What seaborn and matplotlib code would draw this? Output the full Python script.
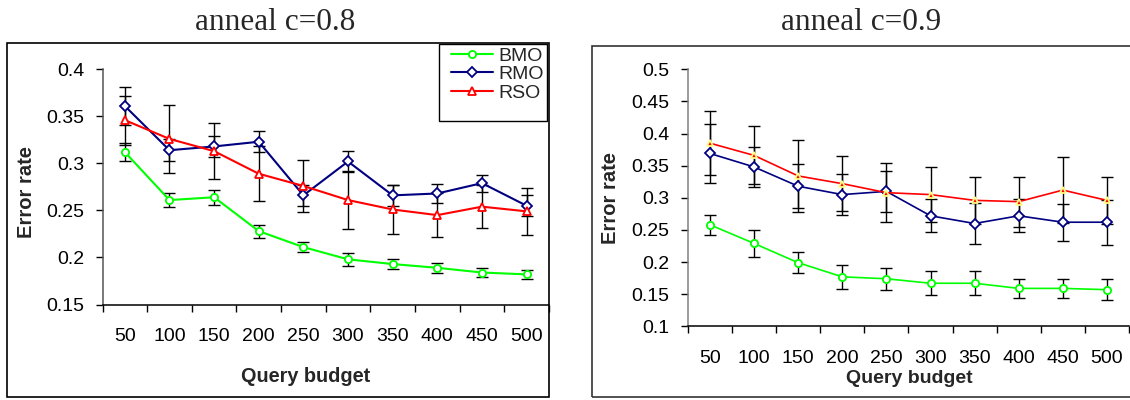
import matplotlib
matplotlib.use("Agg")
import matplotlib.pyplot as plt
from matplotlib.patches import Rectangle
from matplotlib.ticker import FixedLocator, NullLocator
import seaborn as sns
import pandas as pd

# ---------------- data ----------------
budgets = ["50", "100", "150", "200", "250", "300", "350", "400", "450", "500"]
series_names = ["BMO", "RMO", "RSO"]

# anneal c=0.8
bmo_08 = [0.312, 0.261, 0.264, 0.228, 0.211, 0.198, 0.193, 0.189, 0.184, 0.182]
bmo_08_err = [0.010, 0.007, 0.008, 0.007, 0.005, 0.007, 0.005, 0.005, 0.0045, 0.005]
rmo_08 = [0.361, 0.314, 0.318, 0.323, 0.266, 0.302, 0.266, 0.268, 0.279, 0.255]
rmo_08_err = [0.020, 0.012, 0.011, 0.011, 0.011, 0.011, 0.011, 0.010, 0.009, 0.011]
rso_08 = [0.346, 0.326, 0.313, 0.289, 0.276, 0.261, 0.251, 0.245, 0.254, 0.249]
rso_08_err = [0.026, 0.036, 0.030, 0.029, 0.028, 0.031, 0.026, 0.023, 0.023, 0.025]

# anneal c=0.9
bmo_09 = [0.258, 0.229, 0.199, 0.177, 0.174, 0.167, 0.167, 0.159, 0.159, 0.157]
bmo_09_err = [0.016, 0.021, 0.016, 0.019, 0.017, 0.019, 0.019, 0.015, 0.015, 0.016]
rmo_09 = [0.369, 0.348, 0.318, 0.305, 0.310, 0.272, 0.260, 0.272, 0.262, 0.262]
rmo_09_err = [0.046, 0.031, 0.034, 0.032, 0.032, 0.026, 0.032, 0.026, 0.029, 0.035]
rso_09 = [0.385, 0.366, 0.334, 0.322, 0.308, 0.305, 0.296, 0.294, 0.312, 0.296]
rso_09_err = [0.050, 0.045, 0.056, 0.043, 0.046, 0.043, 0.037, 0.039, 0.051, 0.037]

titles = ["anneal c=0.8", "anneal c=0.9"]
y_ticks_08 = [0.15, 0.2, 0.25, 0.3, 0.35, 0.4]
y_ticks_09 = [0.1, 0.15, 0.2, 0.25, 0.3, 0.35, 0.4, 0.45, 0.5]


def make_df(b, be, m, me, s, se):
    rows = []
    for name, vals, errs in zip(series_names, [b, m, s], [be, me, se]):
        for x, v, e in zip(budgets, vals, errs):
            rows.append({"budget": x, "series": name, "value": v, "err": e})
    return pd.DataFrame(rows)


df08 = make_df(bmo_08, bmo_08_err, rmo_08, rmo_08_err, rso_08, rso_08_err)
df09 = make_df(bmo_09, bmo_09_err, rmo_09, rmo_09_err, rso_09, rso_09_err)

# ---------------- style ----------------
sns.set_theme(style="white")
plt.rcParams["font.family"] = ["Liberation Sans", "DejaVu Sans"]

W, H = 1130, 400
fig = plt.figure(figsize=(W / 100, H / 100), dpi=100)


def fx(px):
    return px / W


def fy(py):
    return (H - py) / H


colors = {"BMO": "#00FF00", "RMO": "#000080", "RSO": "#FF0000"}
markers = {"BMO": "o", "RMO": "D", "RSO": "^"}

# chart-area borders
fig.add_artist(Rectangle((fx(6.7), fy(396.5)), fx(549 - 6.7), (396.5 - 43) / H,
                         transform=fig.transFigure, fill=False, lw=1.2, ec="black"))
fig.add_artist(Rectangle((fx(592), fy(397)), fx(1140 - 592), (397 - 46) / H,
                         transform=fig.transFigure, fill=False, lw=1.2, ec="#333333"))

axL = fig.add_axes([fx(102.5), fy(304.5), fx(548.9 - 102.5), (304.5 - 69.3) / H])
axR = fig.add_axes([fx(687.9), fy(326.3), fx(1129 - 687.9), (326.3 - 69.3) / H])


def draw(ax, df, ylim, yticks, lw, right=False):
    ax.set_facecolor("none")
    for name in series_names:
        sub = df[df["series"] == name]
        ax.errorbar(sub["budget"], sub["value"], yerr=sub["err"], fmt="none",
                    ecolor="black", elinewidth=1.0, capsize=4.6, capthick=1.0,
                    zorder=1.5)
    for name in series_names:
        sub = df[df["series"] == name]
        c = colors[name]
        mfc, mec = "white", c
        ms = 5.2 if name != "RMO" else 4.6
        if right and name == "RSO":
            mfc, mec, ms = "#FF0000", "#FFFF88", 5.0
        sns.lineplot(data=sub, x="budget", y="value", ax=ax, color=c,
                     marker=markers[name], markersize=ms, markerfacecolor=mfc,
                     markeredgecolor=mec, markeredgewidth=1.3, linewidth=lw,
                     errorbar=None, sort=False, label=name, legend=False,
                     zorder=3)
    ax.set_xlim(-0.5, 9.5)
    ax.set_ylim(*ylim)
    ax.set_yticks(yticks)
    ax.set_yticklabels([f"{t:g}" for t in yticks])
    ax.set_xticks(range(len(budgets)))
    ax.set_xticklabels(budgets)
    ax.xaxis.set_minor_locator(FixedLocator([i - 0.5 for i in range(len(budgets) + 1)]))
    ax.tick_params(axis="x", which="major", length=0, pad=17, labelsize=14,
                   colors="black")
    ax.tick_params(axis="x", which="minor", length=6.7 / 1.389, width=1.0,
                   direction="out", bottom=True, color="black")
    ax.tick_params(axis="y", which="major", length=4.9, width=1.0, pad=8.2,
                   direction="out", left=True, labelsize=14, color="black",
                   labelcolor="black")
    ax.yaxis.set_minor_locator(NullLocator())
    for s in ["top", "right"]:
        ax.spines[s].set_visible(False)
    ax.spines["bottom"].set_color("black")
    ax.spines["bottom"].set_linewidth(1.1)
    ax.spines["left"].set_color("#555555" if not right else "#808080")
    ax.spines["left"].set_linewidth(1.1)
    ax.set_xlabel("")
    ax.set_ylabel("")
    ax.grid(False)


draw(axL, df08, (0.15, 0.4), y_ticks_08, 1.5)
draw(axR, df09, (0.1, 0.5), y_ticks_09, 1.2, right=True)

# titles
fig.text(fx(275), fy(30), titles[0], ha="center", va="baseline",
         fontsize=22.5, family=["Liberation Serif", "DejaVu Serif"])
fig.text(fx(861), fy(30), titles[1], ha="center", va="baseline",
         fontsize=22.5, family=["Liberation Serif", "DejaVu Serif"])

# axis labels
fig.text(fx(306), fy(381.5), "Query budget", ha="center", va="baseline",
         fontsize=14.3, fontweight="bold")
fig.text(fx(909), fy(383.3), "Query budget", ha="center", va="baseline",
         fontsize=14.0, fontweight="bold")
fig.text(fx(32.1), fy(191.7), "Error rate", ha="center", va="baseline",
         rotation=90, rotation_mode="anchor", fontsize=14.5, fontweight="bold")
fig.text(fx(616.4), fy(198.3), "Error rate", ha="center", va="baseline",
         rotation=90, rotation_mode="anchor", fontsize=14.5, fontweight="bold")

# legend (box drawn inside the axes so the legend sits on top of it)
legbox = Rectangle((fx(438.6), fy(120.7)), fx(547 - 438.6), (120.7 - 44) / H,
                   transform=fig.transFigure, fill=True, fc="white",
                   lw=1.0, ec="black", zorder=4, clip_on=False)
axL.add_patch(legbox)
handles, labels = axL.get_legend_handles_labels()
leg = axL.legend(handles, labels, loc="upper left",
                 bbox_to_anchor=(fx(450.7), fy(47.0)), bbox_transform=fig.transFigure,
                 frameon=False, borderpad=0, borderaxespad=0, handlelength=2.16,
                 handletextpad=0.27, labelspacing=0.05, fontsize=14)
leg.set_zorder(5)

fig.savefig("out.png", dpi=100)
